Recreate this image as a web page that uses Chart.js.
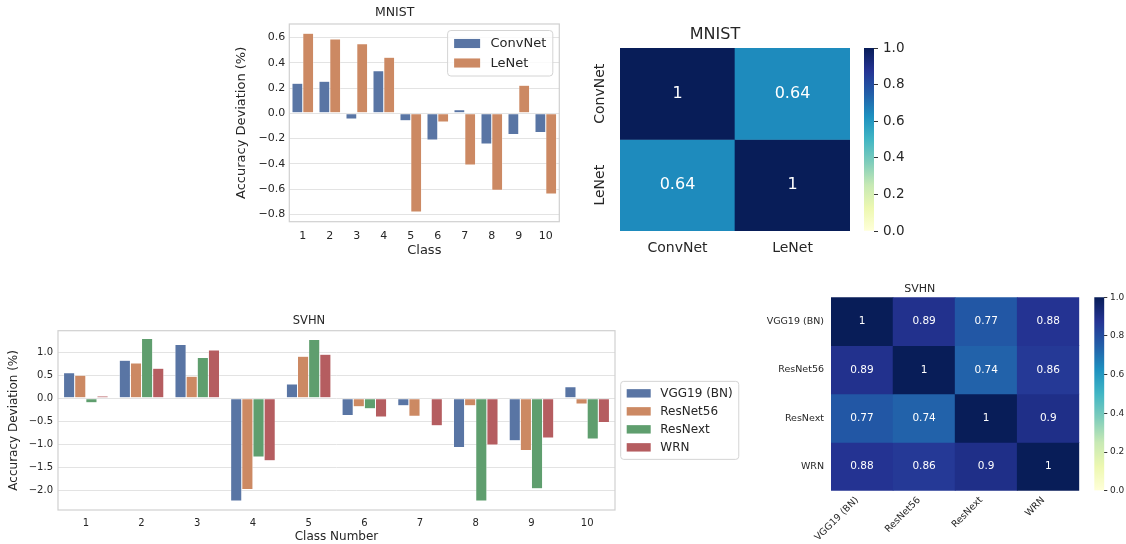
<!DOCTYPE html>
<html>
<head>
<meta charset="utf-8">
<title>Accuracy deviation per class</title>
<script src="https://cdn.jsdelivr.net/npm/chart.js@4.4.1/dist/chart.umd.min.js"></script>
<style>
  html, body { margin: 0; padding: 0; background: #fff; }
  #fig { position: relative; width: 1126px; height: 544px; overflow: hidden; }
  #fig canvas { position: absolute; }
</style>
</head>
<body>
<div id="fig">
  <canvas id="mnistBar" width="340" height="262" style="left:230px;top:0px"></canvas>
  <canvas id="mnistHeat" width="275" height="261" style="left:580px;top:0px"></canvas>
  <canvas id="mnistCbar" width="80" height="261" style="left:850px;top:0px"></canvas>
  <canvas id="svhnBar" width="737" height="244" style="left:3px;top:300px"></canvas>
  <canvas id="svhnHeat" width="325" height="274" style="left:760px;top:270px"></canvas>
  <canvas id="svhnCbar" width="47" height="274" style="left:1079px;top:270px"></canvas>
</div>
<script>
'use strict';

// ---- data ----
const classes = ['1', '2', '3', '4', '5', '6', '7', '8', '9', '10'];

const mnistConvNet = [0.238, 0.254, -0.045, 0.338, -0.058, -0.212, 0.029, -0.244, -0.167, -0.151];
const mnistLeNet   = [0.635, 0.590, 0.552, 0.444, -0.783, -0.069, -0.410, -0.609, 0.222, -0.640];
const mnistYTicks  = [-0.8, -0.6, -0.4, -0.2, 0, 0.2, 0.4, 0.6];

const svhnVGG      = [0.558, 0.826, 1.167, -2.225, 0.312, -0.370, -0.160, -1.065, -0.920, 0.254];
const svhnResNet56 = [0.500, 0.768, 0.478, -1.978, 0.913, -0.180, -0.390, -0.160, -1.130, -0.123];
const svhnResNext  = [-0.094, 1.297, 0.884, -1.275, 1.275, -0.225, -0.020, -2.225, -1.964, -0.884];
const svhnWRN      = [0.050, 0.652, 1.050, -1.355, 0.957, -0.406, -0.594, -1.014, -0.862, -0.522];
const svhnYTicks   = [-2, -1.5, -1, -0.5, 0, 0.5, 1];

const mnistModels = ['ConvNet', 'LeNet'];
const mnistCorr = [
    [1, 0.64],
    [0.64, 1]
];
const svhnModels = ['VGG19 (BN)', 'ResNet56', 'ResNext', 'WRN'];
const svhnCorr = [
    [1, 0.89, 0.77, 0.88],
    [0.89, 1, 0.74, 0.86],
    [0.77, 0.74, 1, 0.9],
    [0.88, 0.86, 0.9, 1]
];
const cbarRange = [0, 1];
const cbarTicks = [0, 0.2, 0.4, 0.6, 0.8, 1];

// ---- style ----
const TEXT = '#262626';
const GRID = '#e3e3e3';
const FRAME = '#d0d0d0';
const BLUE = '#5975a4', ORANGE = '#cc8963', GREEN = '#5f9e6e', RED = '#b55d60';
const YLGNBU = ['#ffffd9', '#edf8b1', '#c7e9b4', '#7fcdbb', '#41b6c4', '#1d91c0', '#225ea8', '#253494', '#081d58'];

Chart.defaults.font.family = '"DejaVu Sans", sans-serif';
Chart.defaults.color = TEXT;
Chart.defaults.animation = false;

function hexToRgb(h)
{
    return [parseInt(h.slice(1, 3), 16), parseInt(h.slice(3, 5), 16), parseInt(h.slice(5, 7), 16)];
}

function ylgnbu(v)
{
    const p = Math.min(Math.max(v, 0), 1) * (YLGNBU.length - 1);
    const k = Math.min(Math.floor(p), YLGNBU.length - 2);
    const t = p - k;
    const a = hexToRgb(YLGNBU[k]), b = hexToRgb(YLGNBU[k + 1]);
    const c = a.map((x, i) => Math.round(x + (b[i] - x) * t));
    return `rgb(${c[0]},${c[1]},${c[2]})`;
}

function minusFmt(v)
{
    return Number(v).toFixed(1).replace('-', '\u2212');
}

// frame around the plot area (matplotlib spines)
const frame = {
    id: 'frame',
    afterDatasetsDraw(chart)
    {
        const a = chart.chartArea, ctx = chart.ctx;
        ctx.save();
        ctx.strokeStyle = FRAME;
        ctx.lineWidth = 1.2;
        ctx.strokeRect(a.left, a.top, a.right - a.left, a.bottom - a.top);
        ctx.restore();
    }
};

// legend in a rounded box, matplotlib style
const boxLegend = {
    id: 'boxLegend',
    afterDraw(chart, args, o)
    {
        const ctx = chart.ctx, a = chart.chartArea, f = o.size;
        const items = chart.data.datasets;
        ctx.save();
        ctx.font = `${f}px "DejaVu Sans"`;
        const textW = Math.max(...items.map(d => ctx.measureText(d.label).width));
        const bp = f * 0.5;
        const w = bp + f * 2 + f * 0.8 + textW + bp;
        const h = items.length * f * 1.5 - f * 0.5 + bp * 2;
        let x, y;
        if (o.mode === 'ne')
        {
            x = a.right - f * 0.5 - w;
            y = a.top + f * 0.5;
        }
        else
        {
            x = a.right + o.gap;
            y = (a.top + a.bottom) / 2 - h / 2;
        }
        const r = f * 0.25;
        ctx.beginPath();
        ctx.moveTo(x + r, y);
        ctx.arcTo(x + w, y, x + w, y + h, r);
        ctx.arcTo(x + w, y + h, x, y + h, r);
        ctx.arcTo(x, y + h, x, y, r);
        ctx.arcTo(x, y, x + w, y, r);
        ctx.closePath();
        ctx.fillStyle = 'rgba(255,255,255,0.8)';
        ctx.fill();
        ctx.strokeStyle = '#d4d4d4';
        ctx.lineWidth = 1;
        ctx.stroke();
        ctx.textBaseline = 'middle';
        ctx.textAlign = 'left';
        items.forEach((d, k) => {
            const cy = y + bp + f / 2 + k * f * 1.5;
            ctx.fillStyle = d.backgroundColor;
            ctx.fillRect(x + bp, cy - f * 0.35, f * 2, f * 0.7);
            ctx.fillStyle = TEXT;
            ctx.fillText(d.label, x + bp + f * 2.8, cy + 0.5);
        });
        ctx.restore();
    }
};

// numbers in the heatmap cells
const cellText = {
    id: 'cellText',
    afterDatasetsDraw(chart, args, o)
    {
        const ctx = chart.ctx;
        ctx.save();
        ctx.font = `${o.size}px "DejaVu Sans"`;
        ctx.fillStyle = '#ffffff';
        ctx.textAlign = 'center';
        ctx.textBaseline = 'middle';
        chart.data.datasets.forEach((ds, i) => {
            chart.getDatasetMeta(i).data.forEach((bar, j) => {
                ctx.fillText(String(o.matrix[i][j]), bar.x, (bar.y + bar.base) / 2);
            });
        });
        ctx.restore();
    }
};

// vertical row labels (MNIST heatmap)
const sideLabels = {
    id: 'sideLabels',
    afterDraw(chart, args, o)
    {
        if (!o.labels) return;
        const ctx = chart.ctx, y = chart.scales.y;
        ctx.save();
        ctx.font = `${o.size}px "DejaVu Sans"`;
        ctx.fillStyle = TEXT;
        ctx.textAlign = 'center';
        ctx.textBaseline = 'middle';
        o.labels.forEach((lab, i) => {
            ctx.save();
            ctx.translate(chart.chartArea.left - o.offset, y.getPixelForValue(i + 0.5));
            ctx.rotate(-Math.PI / 2);
            ctx.fillText(lab, 0, 0);
            ctx.restore();
        });
        ctx.restore();
    }
};

function barChart(id, sets, yr, yTicks, s)
{
    return new Chart(document.getElementById(id), {
        type: 'bar',
        data: {
            labels: classes,
            datasets: sets.map(d => ({
                label: d[0],
                data: d[1],
                backgroundColor: d[2],
                borderColor: '#ffffff',
                borderWidth: 0.5,
                borderSkipped: false,
                categoryPercentage: 0.8,
                barPercentage: 1
            }))
        },
        options: {
            responsive: false,
            layout: { padding: { left: 0, right: s.padRight, top: 0, bottom: 0 } },
            plugins: {
                legend: { display: false },
                tooltip: { enabled: false },
                title: {
                    display: true, text: s.title, color: TEXT,
                    font: { size: s.titleSize, weight: 'normal' },
                    padding: s.titlePad
                },
                boxLegend: s.legend
            },
            scales: {
                x: {
                    afterFit: sc => { sc.height = s.xHeight; },
                    grid: { display: false, drawTicks: false },
                    border: { display: false },
                    ticks: { padding: s.xTickPad, color: TEXT, font: { size: s.tickSize } },
                    title: {
                        display: true, text: s.xTitle, color: TEXT,
                        font: { size: s.labelSize }, padding: { top: 0, bottom: s.xTitlePad }
                    }
                },
                y: {
                    min: yr[0], max: yr[1],
                    afterBuildTicks: sc => { sc.ticks = yTicks.map(v => ({ value: v })); },
                    afterFit: sc => { sc.width = s.yWidth; },
                    grid: { color: GRID, lineWidth: 1, drawTicks: false },
                    border: { display: false },
                    ticks: { padding: s.yTickPad, color: TEXT, font: { size: s.tickSize }, callback: v => minusFmt(v) },
                    title: {
                        display: true, text: 'Accuracy Deviation (%)', color: TEXT,
                        font: { size: s.labelSize }, padding: { top: 4, bottom: 4 }
                    }
                }
            }
        },
        plugins: [frame, boxLegend]
    });
}

function heatmap(id, names, matrix, s)
{
    return new Chart(document.getElementById(id), {
        type: 'bar',
        data: {
            labels: names,
            datasets: matrix.map((row, i) => ({
                label: names[i],
                data: row.map(() => [i, i + 1]),
                backgroundColor: row.map(v => ylgnbu(v)),
                borderWidth: 0,
                categoryPercentage: 1,
                barPercentage: 1
            }))
        },
        options: {
            responsive: false,
            layout: { padding: { left: 0, right: s.padRight, top: 0, bottom: 0 } },
            plugins: {
                legend: { display: false },
                tooltip: { enabled: false },
                title: {
                    display: true, text: s.title, color: TEXT,
                    font: { size: s.titleSize, weight: 'normal' },
                    padding: s.titlePad
                },
                cellText: { matrix: matrix, size: s.annotSize },
                sideLabels: s.side
            },
            scales: {
                x: {
                    stacked: true,
                    afterFit: sc => { sc.height = s.xHeight; },
                    grid: { display: false, drawTicks: false },
                    border: { display: false },
                    ticks: {
                        padding: s.xTickPad, color: TEXT, font: { size: s.tickSize },
                        minRotation: s.rot, maxRotation: s.rot, autoSkip: false,
                        labelOffset: s.labelShift
                    }
                },
                y: {
                    min: 0, max: names.length, reverse: true,
                    afterBuildTicks: sc => { sc.ticks = names.map((n, i) => ({ value: i + 0.5 })); },
                    afterFit: sc => { sc.width = s.yWidth; },
                    grid: { display: false, drawTicks: false },
                    border: { display: false },
                    ticks: {
                        display: !s.side, padding: s.yTickPad, color: TEXT, font: { size: s.tickSize },
                        callback: (v, i) => names[i]
                    }
                }
            }
        },
        plugins: [cellText, sideLabels]
    });
}

function colorbar(id, s)
{
    return new Chart(document.getElementById(id), {
        type: 'bar',
        data: {
            labels: [''],
            datasets: [{
                data: [cbarRange],
                backgroundColor: c => {
                    const a = c.chart.chartArea;
                    if (!a) return '#ffffff';
                    const g = c.chart.ctx.createLinearGradient(0, a.bottom, 0, a.top);
                    YLGNBU.forEach((col, k) => g.addColorStop(k / (YLGNBU.length - 1), col));
                    return g;
                },
                borderWidth: 0,
                categoryPercentage: 1,
                barPercentage: 1
            }]
        },
        options: {
            responsive: false,
            layout: { padding: { left: s.padLeft, right: 0, top: s.padTop, bottom: s.padBottom } },
            plugins: { legend: { display: false }, tooltip: { enabled: false } },
            scales: {
                x: { display: false },
                y: {
                    position: 'right',
                    min: cbarRange[0], max: cbarRange[1],
                    afterBuildTicks: sc => { sc.ticks = cbarTicks.map(v => ({ value: v })); },
                    afterFit: sc => { sc.width = s.yWidth; },
                    grid: { drawOnChartArea: false, drawTicks: true, tickLength: s.tickLen, tickColor: '#333333', lineWidth: 1 },
                    border: { display: false },
                    ticks: { padding: s.tickPad, color: TEXT, font: { size: s.tickSize }, callback: v => Number(v).toFixed(1) }
                }
            }
        }
    });
}

// ---- MNIST ----
barChart('mnistBar', [['ConvNet', mnistConvNet, BLUE], ['LeNet', mnistLeNet, ORANGE]], [-0.859, 0.708], mnistYTicks, {
    title: 'MNIST', titleSize: 12.5, titlePad: { top: 5.5, bottom: 3.5 },
    xTitle: 'Class', padRight: 10.7, xHeight: 40.3, yWidth: 59.3,
    tickSize: 11, labelSize: 13, xTickPad: 8, yTickPad: 4, xTitlePad: 3.5,
    legend: { mode: 'ne', size: 13 }
});

heatmap('mnistHeat', mnistModels, mnistCorr, {
    title: 'MNIST', titleSize: 16, titlePad: { top: 25.4, bottom: 3.4 },
    padRight: 5, xHeight: 30, yWidth: 40, tickSize: 14, xTickPad: 9, yTickPad: 0,
    annotSize: 16, rot: 0, labelShift: 0,
    side: { labels: mnistModels, offset: 19.3, size: 14 }
});

colorbar('mnistCbar', { padLeft: 14, padTop: 48, padBottom: 30, yWidth: 56, tickLen: 4, tickPad: 5, tickSize: 13.5 });

// ---- SVHN ----
barChart('svhnBar', [['VGG19 (BN)', svhnVGG, BLUE], ['ResNet56', svhnResNet56, ORANGE],
                     ['ResNext', svhnResNext, GREEN], ['WRN', svhnWRN, RED]], [-2.423, 1.468], svhnYTicks, {
    title: 'SVHN', titleSize: 11.5, titlePad: { top: 13.8, bottom: 3.1 },
    xTitle: 'Class Number', padRight: 125, xHeight: 34, yWidth: 55,
    tickSize: 10, labelSize: 12, xTickPad: 7, yTickPad: 5, xTitlePad: 0,
    legend: { mode: 'right', size: 12, gap: 5.7 }
});

heatmap('svhnHeat', svhnModels, svhnCorr, {
    title: 'SVHN', titleSize: 11, titlePad: { top: 12.4, bottom: 1.7 },
    padRight: 5.7, xHeight: 53.3, yWidth: 71, tickSize: 9.5, xTickPad: 4, yTickPad: 7,
    annotSize: 10.5, rot: 45, labelShift: -5,
    side: null
});

colorbar('svhnCbar', { padLeft: 15.3, padTop: 27.3, padBottom: 53.3, yWidth: 21.7, tickLen: 3, tickPad: 2.7, tickSize: 9 });
</script>
</body>
</html>
